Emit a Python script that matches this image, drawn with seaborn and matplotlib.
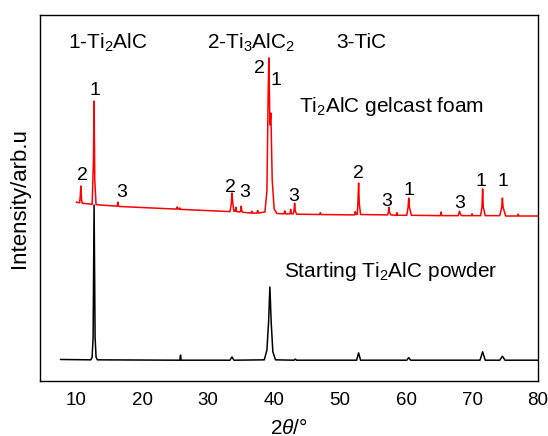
import numpy as np
import pandas as pd
import matplotlib
matplotlib.use("Agg")
import matplotlib.pyplot as plt
import seaborn as sns

# === XRD traces (2theta in deg, intensity in arb. units), vertices ===
foam_2theta = [10.0, 10.5, 10.6, 10.7, 10.8, 10.9, 12.4, 12.6, 12.7, 12.8, 13.0,
               16.0, 16.2, 16.3, 16.4, 16.6, 25.0, 25.2, 25.3, 25.4, 25.6, 25.7, 25.8, 26.0,
               33.3, 33.5, 33.6, 33.7, 33.9, 34.1, 34.2, 34.3, 34.8, 34.9, 35.0, 35.1, 35.3,
               36.5, 36.6, 36.7, 37.4, 37.5, 37.6, 38.6, 38.9, 39.1, 39.2, 39.35, 39.5, 39.7,
               40.0, 40.4, 41.5, 41.6, 41.7, 42.4, 42.5, 42.6, 42.9, 43.0, 43.1, 43.2, 43.4,
               46.9, 47.0, 47.1, 52.2, 52.3, 52.4, 52.6, 52.7, 52.8, 52.9, 53.1,
               57.2, 57.3, 57.4, 57.5, 57.7, 58.5, 58.6, 58.7, 60.1, 60.3, 60.4, 60.5, 60.8,
               65.2, 65.3, 65.4, 67.9, 68.0, 68.1, 68.2, 68.4, 69.9, 70.0, 70.1,
               71.3, 71.5, 71.6, 71.7, 72.0, 74.2, 74.5, 74.6, 74.7, 75.1, 76.9, 77.0, 77.1, 80.0]
foam_int = [48.9, 48.7, 50.5, 53.3, 49.5, 48.6, 48.3, 60.0, 76.5, 55.0, 48.2,
            47.8, 47.8, 48.9, 47.8, 47.7, 47.0, 47.0, 47.6, 47.0, 47.0, 47.3, 46.9, 46.9,
            46.3, 48.5, 51.4, 49.0, 46.4, 46.4, 47.5, 46.3, 46.2, 46.4, 47.8, 46.4, 46.1,
            45.9, 46.4, 45.9, 45.9, 46.6, 45.9, 46.2, 52.0, 80.0, 88.3, 70.0, 73.2, 55.0,
            47.0, 45.8, 45.7, 46.5, 45.7, 45.7, 46.9, 45.7, 45.7, 46.5, 48.6, 46.5, 45.6,
            45.5, 46.0, 45.5, 45.4, 46.3, 45.5, 45.6, 49.0, 54.1, 48.5, 45.5,
            45.4, 46.0, 47.5, 46.0, 45.4, 45.3, 46.0, 45.3, 45.3, 47.5, 50.0, 47.5, 45.3,
            45.2, 46.2, 45.2, 45.2, 45.8, 46.4, 45.8, 45.2, 45.2, 45.7, 45.2,
            45.2, 47.5, 52.5, 47.5, 45.2, 45.2, 47.5, 50.0, 47.5, 45.1, 45.1, 45.6, 45.1, 45.1]

powder_2theta = [7.6, 12.2, 12.4, 12.55, 12.7, 12.85, 13.0, 13.2, 25.7, 25.8, 25.9,
                 33.3, 33.6, 33.9, 38.5, 38.9, 39.15, 39.35, 39.55, 39.8, 40.2,
                 43.0, 43.2, 43.4, 52.5, 52.8, 53.1, 60.1, 60.4, 60.7, 71.2, 71.6, 72.0,
                 74.2, 74.6, 75.0, 80.0]
powder_int = [5.9, 5.8, 6.5, 12.0, 48.1, 12.0, 6.5, 5.8, 5.7, 7.1, 5.7,
              5.7, 6.6, 5.7, 5.8, 8.5, 16.0, 25.7, 16.0, 8.0, 5.8,
              5.7, 6.0, 5.7, 5.7, 7.7, 5.7, 5.7, 6.4, 5.7, 5.7, 8.0, 5.7,
              5.7, 6.8, 5.7, 5.7]

# === Phase markers above the foam trace ===
marker_text = ["2", "1", "3", "2", "3", "2", "1", "3", "2", "3", "1", "3", "1", "1"]
marker_x = [11.0, 12.8, 16.9, 33.4, 35.5, 37.8, 40.3, 43.0, 52.8, 57.1, 60.5, 68.1, 71.4, 74.7]
marker_y = [56.3, 79.5, 51.6, 53.0, 51.6, 85.5, 82.2, 50.5, 56.8, 49.2, 52.2, 48.6, 54.6, 54.6]

x_ticks = [10, 20, 30, 40, 50, 60, 70, 80]

sns.set_theme(style="white")
plt.rcParams["font.family"] = ["Liberation Sans", "DejaVu Sans"]
plt.rcParams["mathtext.fontset"] = "custom"
plt.rcParams["mathtext.rm"] = "Liberation Sans"
plt.rcParams["mathtext.it"] = "Liberation Sans:italic"
plt.rcParams["mathtext.default"] = "regular"
plt.rcParams["text.color"] = "black"
plt.rcParams["axes.labelcolor"] = "black"
plt.rcParams["xtick.color"] = "black"

fig = plt.figure(figsize=(5.48, 4.36), dpi=100)
ax = fig.add_axes([0.073, 0.126, 0.9088, 0.8394])

powder_df = pd.DataFrame({"two_theta": powder_2theta, "intensity": powder_int})
foam_df = pd.DataFrame({"two_theta": foam_2theta, "intensity": foam_int})
sns.lineplot(data=powder_df, x="two_theta", y="intensity", color="black",
             linewidth=1.1, estimator=None, sort=False, ax=ax)
sns.lineplot(data=foam_df, x="two_theta", y="intensity", color="#ff0000",
             linewidth=1.1, estimator=None, sort=False, ax=ax)

for t, x, y in zip(marker_text, marker_x, marker_y):
    ax.text(x, y, t, fontsize=14, ha="center", va="center", color="black")

ax.text(0.057, 0.925, "1-Ti$_2$AlC", transform=ax.transAxes, fontsize=15, va="center")
ax.text(0.336, 0.925, "2-Ti$_3$AlC$_2$", transform=ax.transAxes, fontsize=15, va="center")
ax.text(0.595, 0.925, "3-TiC", transform=ax.transAxes, fontsize=15, va="center")
ax.text(0.52, 0.75, "Ti$_2$AlC gelcast foam", transform=ax.transAxes, fontsize=15, va="center")
ax.text(0.489, 0.30, "Starting Ti$_2$AlC powder", transform=ax.transAxes, fontsize=15, va="center")

ax.set_xlim(4.5, 80)
ax.set_ylim(0, 100)
ax.set_xticks(x_ticks)
ax.set_yticks([])
ax.tick_params(axis="x", length=0, labelsize=13.5, pad=8, colors="black")
ax.set_xlabel(r"2$\mathit{\theta}$/°", fontsize=15, labelpad=6)
ax.set_ylabel("Intensity/arb.u", fontsize=16, labelpad=7)
for s in ax.spines.values():
    s.set_visible(True)
    s.set_color("black")
    s.set_linewidth(1.0)

fig.savefig("out.png", dpi=100)
